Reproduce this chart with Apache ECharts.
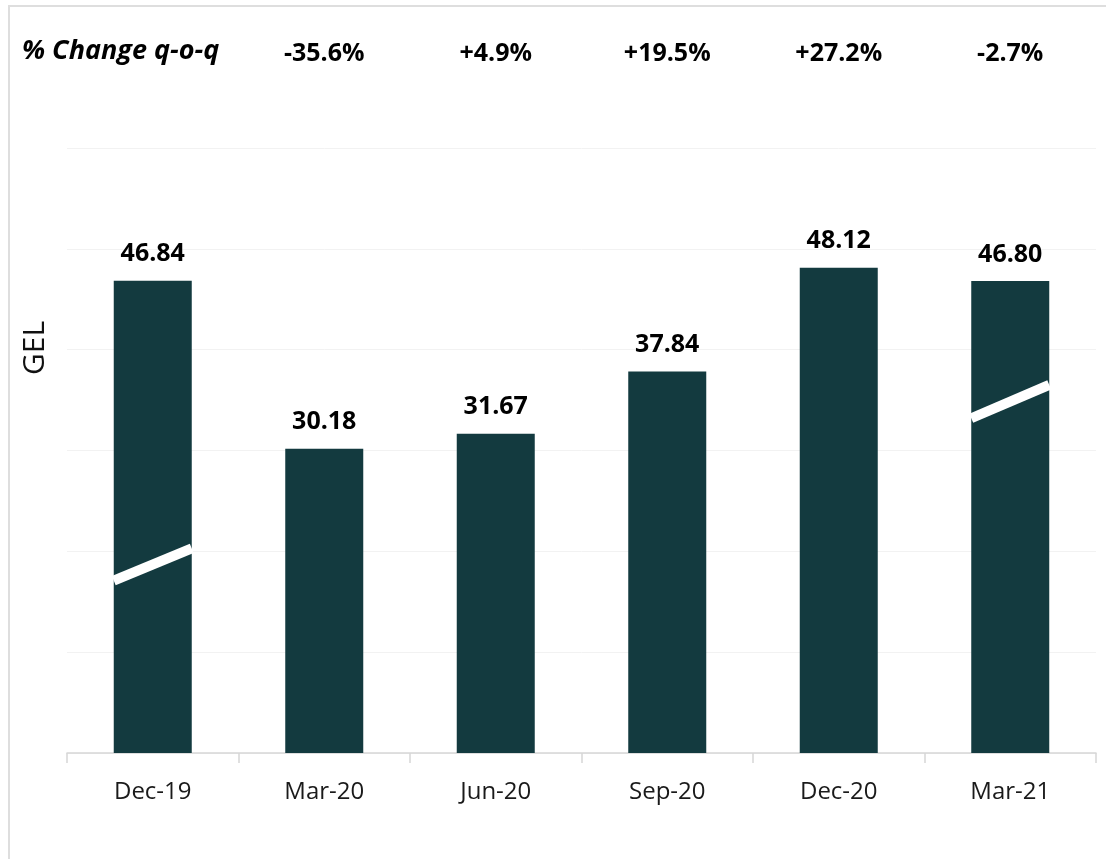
<!DOCTYPE html>
<html>
<head>
<meta charset="utf-8">
<title>GEL q-o-q</title>
<script src="https://cdn.jsdelivr.net/npm/echarts@6/dist/echarts.min.js"></script>
<style>
  html, body { margin: 0; padding: 0; background: #fff; }
  #frame {
    position: absolute; left: 8px; top: 5px; right: 0; bottom: 0;
    border-left: 2px solid #dedede; border-top: 2px solid #dedede;
    pointer-events: none;
  }
  #chart { width: 1106px; height: 859px; }
</style>
</head>
<body>
<div id="chart"></div>
<div id="frame"></div>
<script>
const categories = ['Dec-19', 'Mar-20', 'Jun-20', 'Sep-20', 'Dec-20', 'Mar-21'];
const values = [46.84, 30.18, 31.67, 37.84, 48.12, 46.80];
const changeLabels = ['', '-35.6%', '+4.9%', '+19.5%', '+27.2%', '-2.7%'];

// axis-break marks drawn across two of the bars
const breakCats = ['Dec-19', 'Mar-21'];
const breakLow = [17.1, 33.2];
const breakHigh = [20.3, 36.5];

const FONT = '"Open Sans", "Noto Sans", sans-serif';
const BAR_W = 78;

const chart = echarts.init(document.getElementById('chart'));

chart.setOption({
  animation: false,
  textStyle: { fontFamily: FONT },
  title: {
    text: '% Change q-o-q',
    left: 17,
    top: 33,
    textStyle: { fontFamily: FONT, fontSize: 27, fontWeight: 'bold', fontStyle: 'italic', color: '#000' }
  },
  graphic: [{
    type: 'text',
    x: 35,
    y: 348,
    rotation: Math.PI / 2,
    style: {
      text: 'GEL',
      fontFamily: FONT,
      fontSize: 30,
      fill: '#111',
      align: 'center',
      verticalAlign: 'middle'
    }
  }],
  grid: { left: 67, right: 10, top: 148, bottom: 106 },
  xAxis: [
    {
      type: 'category',
      data: categories,
      axisLine: { lineStyle: { color: '#d6d6d6', width: 1.5 } },
      axisTick: { show: true, length: 10, lineStyle: { color: '#d6d6d6', width: 1.5 } },
      axisLabel: { color: '#1a1a1a', fontSize: 24, margin: 27, fontFamily: FONT }
    },
    {
      type: 'category',
      position: 'top',
      data: changeLabels,
      axisLine: { show: false },
      axisTick: { show: false },
      axisLabel: { color: '#000', fontSize: 25, fontWeight: 'bold', margin: 82, fontFamily: FONT }
    }
  ],
  yAxis: {
    type: 'value',
    min: 0,
    max: 60,
    interval: 10,
    axisLine: { show: false },
    axisTick: { show: false },
    axisLabel: { show: false },
    splitLine: { lineStyle: { color: '#f2f2f2', width: 1 } }
  },
  series: [
    {
      type: 'bar',
      data: values,
      barWidth: BAR_W,
      itemStyle: { color: '#133a3f' },
      label: {
        show: true,
        position: 'top',
        distance: 14,
        fontSize: 25,
        fontWeight: 'bold',
        color: '#000',
        fontFamily: FONT,
        formatter: p => p.value.toFixed(2)
      },
      z: 2
    },
    {
      type: 'custom',
      z: 5,
      data: breakCats.map((c, i) => [c, breakLow[i], breakHigh[i]]),
      renderItem: (params, api) => {
        const left = api.coord([api.value(0), api.value(1)]);
        const right = api.coord([api.value(0), api.value(2)]);
        return {
          type: 'line',
          shape: { x1: left[0] - BAR_W / 2, y1: left[1], x2: right[0] + BAR_W / 2, y2: right[1] },
          style: { stroke: '#fff', lineWidth: 10, lineCap: 'butt' }
        };
      }
    }
  ]
});
</script>
</body>
</html>
